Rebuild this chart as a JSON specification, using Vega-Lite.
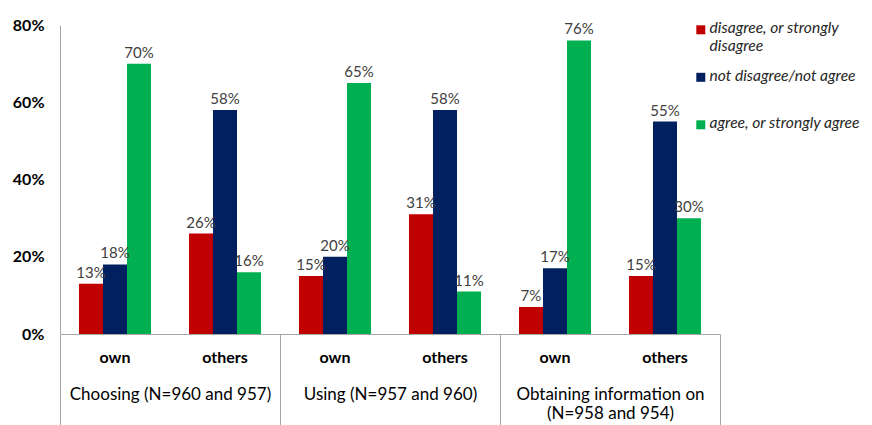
{
  "$schema": "https://vega.github.io/schema/vega-lite/v6.json",
  "width": 660,
  "height": 309,
  "autosize": {"type": "none"},
  "padding": {"left": 60, "top": 25, "right": 152, "bottom": 91},
  "background": "white",
  "config": {"view": {"stroke": null}, "font": "Lato", "axis": {"grid": false}},
  "data": {
    "values": [
      {"group": "Choosing (N=960 and 957)", "sub": "own", "key": "Choosing|own", "series": "disagree, or strongly disagree", "value": 0.13},
      {"group": "Choosing (N=960 and 957)", "sub": "own", "key": "Choosing|own", "series": "not disagree/not agree", "value": 0.18},
      {"group": "Choosing (N=960 and 957)", "sub": "own", "key": "Choosing|own", "series": "agree, or strongly agree", "value": 0.70},
      {"group": "Choosing (N=960 and 957)", "sub": "others", "key": "Choosing|others", "series": "disagree, or strongly disagree", "value": 0.26},
      {"group": "Choosing (N=960 and 957)", "sub": "others", "key": "Choosing|others", "series": "not disagree/not agree", "value": 0.58},
      {"group": "Choosing (N=960 and 957)", "sub": "others", "key": "Choosing|others", "series": "agree, or strongly agree", "value": 0.16},
      {"group": "Using (N=957 and 960)", "sub": "own", "key": "Using|own", "series": "disagree, or strongly disagree", "value": 0.15},
      {"group": "Using (N=957 and 960)", "sub": "own", "key": "Using|own", "series": "not disagree/not agree", "value": 0.20},
      {"group": "Using (N=957 and 960)", "sub": "own", "key": "Using|own", "series": "agree, or strongly agree", "value": 0.65},
      {"group": "Using (N=957 and 960)", "sub": "others", "key": "Using|others", "series": "disagree, or strongly disagree", "value": 0.31},
      {"group": "Using (N=957 and 960)", "sub": "others", "key": "Using|others", "series": "not disagree/not agree", "value": 0.58},
      {"group": "Using (N=957 and 960)", "sub": "others", "key": "Using|others", "series": "agree, or strongly agree", "value": 0.11},
      {"group": "Obtaining information on\n(N=958 and 954)", "sub": "own", "key": "Obtaining|own", "series": "disagree, or strongly disagree", "value": 0.07},
      {"group": "Obtaining information on\n(N=958 and 954)", "sub": "own", "key": "Obtaining|own", "series": "not disagree/not agree", "value": 0.17},
      {"group": "Obtaining information on\n(N=958 and 954)", "sub": "own", "key": "Obtaining|own", "series": "agree, or strongly agree", "value": 0.76},
      {"group": "Obtaining information on\n(N=958 and 954)", "sub": "others", "key": "Obtaining|others", "series": "disagree, or strongly disagree", "value": 0.15},
      {"group": "Obtaining information on\n(N=958 and 954)", "sub": "others", "key": "Obtaining|others", "series": "not disagree/not agree", "value": 0.55},
      {"group": "Obtaining information on\n(N=958 and 954)", "sub": "others", "key": "Obtaining|others", "series": "agree, or strongly agree", "value": 0.30}
    ]
  },
  "layer": [
    {
      "layer": [
        {
          "mark": {"type": "bar"},
          "encoding": {
            "x": {
              "field": "key", "type": "nominal",
              "sort": ["Choosing|own", "Choosing|others", "Using|own", "Using|others", "Obtaining|own", "Obtaining|others"],
              "scale": {"paddingInner": 0, "paddingOuter": 0},
              "axis": {"title": null, "labelExpr": "split(datum.label,'|')[1]", "labelAngle": 0, "ticks": false, "domainColor": "#a6a6a6", "labelFontWeight": "bold", "labelFontSize": 16, "labelColor": "#000000", "labelPadding": 15, "labelBaseline": "top"}
            },
            "xOffset": {
              "field": "series", "type": "nominal",
              "sort": ["disagree, or strongly disagree", "not disagree/not agree", "agree, or strongly agree"],
              "scale": {"paddingInner": 0, "paddingOuter": 0.79}
            },
            "y": {
              "field": "value", "type": "quantitative",
              "scale": {"domain": [0, 0.8], "nice": false},
              "axis": {"title": null, "format": ".0%", "values": [0, 0.2, 0.4, 0.6, 0.8], "ticks": false, "domainColor": "#a6a6a6", "labelFontWeight": "bold", "labelFontSize": 16, "labelColor": "#000000", "labelPadding": 16}
            },
            "color": {
              "field": "series", "type": "nominal",
              "scale": {"domain": ["disagree, or strongly disagree", "not disagree/not agree", "agree, or strongly agree"], "range": ["#C00000", "#002060", "#00B050"]},
              "legend": {
                "title": null, "orient": "none", "legendX": 633, "legendY": -3, "direction": "vertical",
                "padding": 0, "symbolType": "square", "symbolSize": 81, "symbolStrokeWidth": 0,
                "labelFontStyle": "italic", "labelFontSize": 15.6, "labelColor": "#262626", "labelBaseline": "top",
                "labelOffset": 1, "gridAlign": "all", "rowPadding": 13.5, "labelLimit": 300, "labelLineHeight": 19,
                "labelExpr": "datum.label == 'disagree, or strongly disagree' ? ['disagree, or strongly', 'disagree'] : datum.label",
                "encode": {"labels": {"update": {"dy": {"value": -8.5}}}}
              }
            }
          }
        },
        {
          "mark": {"type": "text", "baseline": "bottom", "dy": -3, "fontSize": 15, "color": "#404040"},
          "encoding": {
            "x": {"field": "key", "type": "nominal", "sort": ["Choosing|own", "Choosing|others", "Using|own", "Using|others", "Obtaining|own", "Obtaining|others"]},
            "xOffset": {"field": "series", "type": "nominal", "sort": ["disagree, or strongly disagree", "not disagree/not agree", "agree, or strongly agree"]},
            "y": {"field": "value", "type": "quantitative"},
            "text": {"field": "value", "type": "quantitative", "format": ".0%"}
          }
        }
      ]
    },
    {
      "mark": {"type": "rule", "opacity": 0},
      "encoding": {
        "x": {
          "field": "group", "type": "nominal",
          "sort": ["Choosing (N=960 and 957)", "Using (N=957 and 960)", "Obtaining information on\n(N=958 and 954)"],
          "scale": {"paddingInner": 0, "paddingOuter": 0},
          "axis": {"title": null, "orient": "bottom", "tickBand": "extent", "tickSize": 91, "tickColor": "#a6a6a6", "tickWidth": 1, "domain": false, "labelAngle": 0, "labelExpr": "split(datum.label,'\\n')", "labelBaseline": "top", "labelFontSize": 17, "labelColor": "#000000", "labelPadding": -39, "labelLineHeight": 19, "labelLimit": 400}
        }
      }
    }
  ],
  "resolve": {"scale": {"x": "independent"}, "axis": {"x": "independent"}}
}
